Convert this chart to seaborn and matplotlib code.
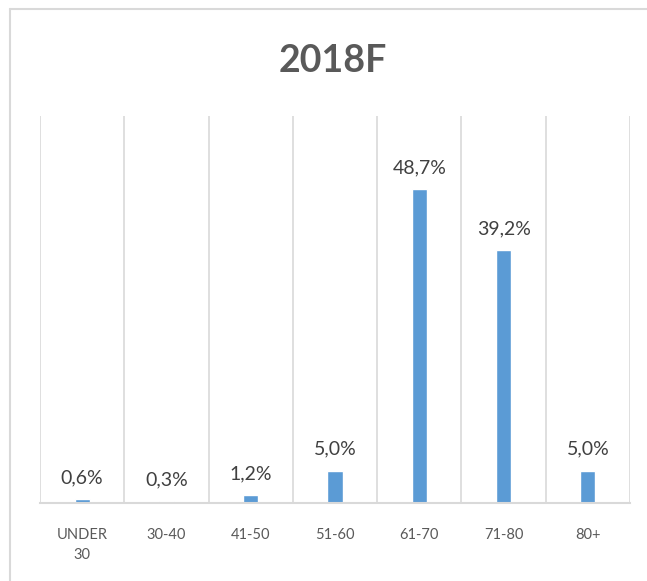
import matplotlib
matplotlib.use("Agg")
import matplotlib.pyplot as plt
import seaborn as sns
import pandas as pd
from matplotlib.lines import Line2D

# Chart data
categories = ["UNDER\n30", "30-40", "41-50", "51-60", "61-70", "71-80", "80+"]
values = [0.6, 0.3, 1.2, 5.0, 48.7, 39.2, 5.0]
title = "2018F"

sns.set_style("white")
plt.rcParams["font.family"] = ["Lato", "DejaVu Sans"]

df = pd.DataFrame({"age": categories, "share": values})

fig = plt.figure(figsize=(6.47, 5.81), dpi=100)
ax = fig.add_axes([40 / 647, 1 - 503 / 581, 590 / 647, 387 / 581])

sns.barplot(data=df, x="age", y="share", color="#5B9BD5", saturation=1,
            width=0.18, ax=ax)

ax.set_ylim(0, 60)
ax.set_xlim(-0.5, len(categories) - 0.5)
ax.set_yticks([])
ax.set_xlabel("")
ax.set_ylabel("")

# vertical gridlines between categories
for b in range(len(categories) + 1):
    ax.axvline(b - 0.5, color="#d9d9d9", lw=1.2, zorder=0)

for side in ["top", "right", "left"]:
    ax.spines[side].set_visible(False)
ax.spines["bottom"].set_color("#d9d9d9")
ax.spines["bottom"].set_linewidth(1.5)

ax.tick_params(axis="x", length=0, pad=18, labelsize=10.5, colors="#595959")
for lbl in ax.get_xticklabels():
    lbl.set_linespacing(1.55)

# data labels
for i, v in enumerate(values):
    ax.annotate(f"{v:.1f}%".replace(".", ","), (i, v), xytext=(0, 11.5),
                textcoords="offset points", ha="center", va="baseline",
                fontsize=14, color="#404040")

fig.text(333 / 647, 1 - 72 / 581, title, ha="center", va="baseline",
         fontsize=27, fontweight="bold", color="#595959")

# chart frame: only top and left edges are inside the picture
fx, fy = 10 / 647, 1 - 9 / 581
fig.add_artist(Line2D([fx, 1], [fy, fy], transform=fig.transFigure,
                      color="#d9d9d9", lw=1.5))
fig.add_artist(Line2D([fx, fx], [0, fy], transform=fig.transFigure,
                      color="#d9d9d9", lw=1.5))

fig.savefig("out.png", dpi=100)
